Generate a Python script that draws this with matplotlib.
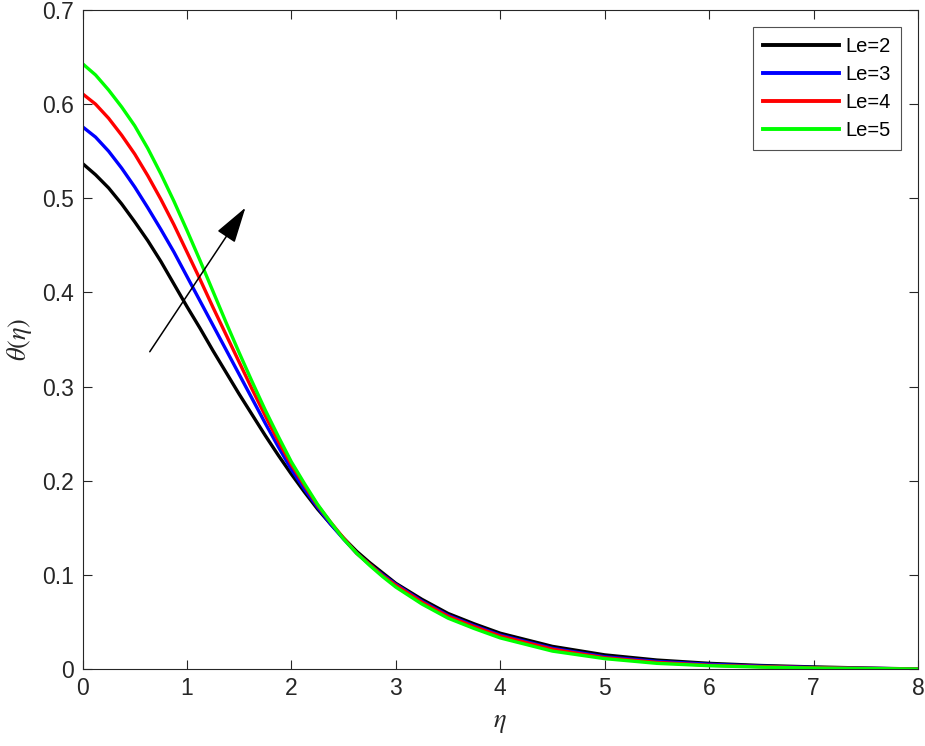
import matplotlib
matplotlib.use("Agg")
import matplotlib.pyplot as plt

plt.rcParams['font.family'] = ['Liberation Sans', 'DejaVu Sans']
plt.rcParams['mathtext.fontset'] = 'stix'

eta = [0, 0.125, 0.25, 0.375, 0.5, 0.625, 0.75, 0.875, 1.0, 1.125, 1.25, 1.375,
       1.5, 1.625, 1.75, 1.875, 2.0, 2.125, 2.25, 2.375, 2.5, 2.625, 2.75, 2.875,
       3.0, 3.25, 3.5, 3.75, 4.0, 4.5, 5.0, 5.5, 6.0, 6.5, 7.0, 7.5, 8.0]
theta_le2 = [0.537, 0.525, 0.511, 0.494, 0.475, 0.455, 0.433, 0.409, 0.385, 0.362,
             0.338, 0.315, 0.292, 0.270, 0.248, 0.227, 0.207, 0.188, 0.170, 0.154,
             0.139, 0.125, 0.113, 0.102, 0.091, 0.074, 0.059, 0.048, 0.038, 0.024,
             0.015, 0.0095, 0.006, 0.0037, 0.0022, 0.001, 0.000]
theta_le3 = [0.576, 0.565, 0.550, 0.532, 0.512, 0.490, 0.467, 0.443, 0.417, 0.391,
             0.365, 0.339, 0.313, 0.287, 0.261, 0.236, 0.212, 0.191, 0.172, 0.154,
             0.138, 0.123, 0.111, 0.100, 0.090, 0.072, 0.057, 0.046, 0.036, 0.022,
             0.013, 0.008, 0.005, 0.003, 0.0016, 0.0007, 0.000]
theta_le4 = [0.611, 0.600, 0.585, 0.567, 0.547, 0.524, 0.499, 0.472, 0.443, 0.414,
             0.384, 0.355, 0.326, 0.297, 0.269, 0.242, 0.217, 0.195, 0.174, 0.156,
             0.139, 0.123, 0.111, 0.099, 0.089, 0.071, 0.056, 0.045, 0.035, 0.021,
             0.012, 0.007, 0.004, 0.0025, 0.0013, 0.0006, 0.000]
theta_le5 = [0.643, 0.631, 0.615, 0.597, 0.577, 0.553, 0.526, 0.497, 0.466, 0.434,
             0.401, 0.368, 0.336, 0.305, 0.275, 0.247, 0.220, 0.197, 0.175, 0.156,
             0.138, 0.123, 0.110, 0.098, 0.087, 0.069, 0.054, 0.043, 0.033, 0.019,
             0.011, 0.006, 0.0035, 0.002, 0.001, 0.0005, 0.000]
labels = ['Le=2', 'Le=3', 'Le=4', 'Le=5']
colors = ['#000000', '#0000ff', '#ff0000', '#00ff00']

fig = plt.figure(figsize=(9.25, 7.46), dpi=100)
ax = fig.add_axes([82.5 / 925, 77 / 746, (918 - 82.5) / 925, (668.5 - 9.5) / 746])

for y, lab, c in zip([theta_le2, theta_le3, theta_le4, theta_le5], labels, colors):
    ax.plot(eta, y, color=c, lw=2.4, label=lab, solid_joinstyle='round')

ax.set_xlim(0, 8)
ax.set_ylim(0, 0.7)
ax.set_xticks(range(0, 9))
ax.set_yticks([0, 0.1, 0.2, 0.3, 0.4, 0.5, 0.6, 0.7])
ax.set_yticklabels(['0', '0.1', '0.2', '0.3', '0.4', '0.5', '0.6', '0.7'])
ax.tick_params(direction='in', length=6.5, width=0.8, top=True, right=True,
               labelsize=16.5, colors='#262626', pad=6)
for s in ax.spines.values():
    s.set_color('#262626')
    s.set_linewidth(0.8)

ax.set_xlabel(r'$\eta$', fontsize=19, color='#262626', labelpad=8)
ax.set_ylabel(r'$\theta(\eta)$', fontsize=19, color='#262626', labelpad=6)

ax.annotate('', xy=(1.56, 0.49), xytext=(0.644, 0.337),
            arrowprops=dict(arrowstyle='-|>,head_length=0.75,head_width=0.22',
                            color='black', lw=1.1,
                            mutation_scale=30, shrinkA=0, shrinkB=0))

leg = ax.legend(loc='upper right', fontsize=14.5, frameon=True, fancybox=False,
                edgecolor='#262626', handlelength=3.8, handletextpad=0.3,
                labelspacing=0.45, borderpad=0.5, borderaxespad=0.85)
leg.get_frame().set_linewidth(0.8)
for h in leg.get_lines():
    h.set_linewidth(2.8)

fig.savefig('out.png', dpi=100)
